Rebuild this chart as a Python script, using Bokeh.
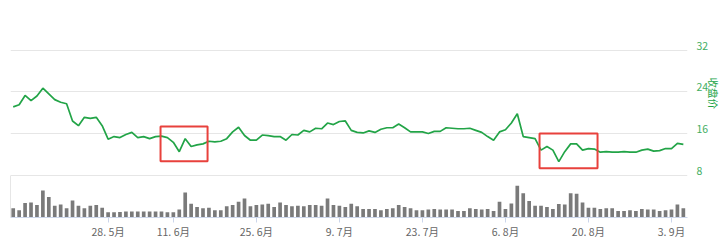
import math
from bokeh.plotting import figure
from bokeh.models import (Range1d, LinearAxis, FixedTicker, ColumnDataSource, Title)
from bokeh.embed import file_html
from bokeh.resources import INLINE

# ---------------- data ----------------
price = [21.1, 21.5, 23.3, 22.3, 23.2, 24.7, 23.6, 22.5, 22.0, 21.7,
         18.4, 17.5, 19.1, 18.9, 19.1, 17.5, 14.9, 15.4, 15.2, 15.8,
         16.2, 15.2, 15.4, 15.0, 15.4, 15.5, 15.2, 14.3, 12.5, 15.0,
         13.5, 13.8, 14.0, 14.5, 14.4, 14.5, 15.0, 16.3, 17.2,
         15.6, 14.7, 14.7, 15.7, 15.6, 15.4, 15.4, 14.7, 15.8, 15.7,
         16.6, 16.3, 17.0, 16.9, 18.0, 17.7, 18.3, 18.4, 16.6, 16.2,
         16.1, 16.5, 16.2, 16.8, 17.1, 17.1, 17.8, 17.1, 16.3, 16.3,
         16.3, 16.0, 16.4, 16.4, 17.1, 17.0, 16.9, 16.9, 17.0, 16.6,
         16.2, 15.4, 14.7, 16.3, 16.7, 18.0, 19.8, 15.4, 15.2, 15.0,
         12.8, 13.5, 12.8, 10.6, 12.5, 14.0, 14.0, 12.8, 13.1, 13.0,
         12.4, 12.5, 12.4, 12.4, 12.5, 12.4, 12.4, 12.8, 13.0, 12.6,
         12.7, 13.1, 13.1, 14.1, 13.9]

volume = [9.3, 7.3, 14.7, 15.3, 12.7, 27.3, 20.7, 12.0, 13.3, 9.3,
          17.3, 12.0, 9.3, 12.0, 12.7, 10.0, 5.3, 5.3, 5.7, 6.0,
          6.0, 6.0, 6.0, 6.0, 6.0, 6.0, 5.3, 5.3, 8.0, 25.3,
          14.0, 10.7, 9.3, 10.0, 7.3, 7.3, 11.3, 12.7,
          16.0, 19.3, 11.3, 12.7, 13.3, 14.0, 10.7, 15.3, 12.7, 11.3,
          12.0, 11.3, 12.7, 12.7,
          12.0, 19.3, 12.7, 12.0, 10.7, 14.0, 11.3,
          8.7, 8.7, 8.7, 7.3, 8.7, 9.3, 12.7, 10.7, 9.3, 7.3,
          7.3, 8.0, 8.7, 8.0, 8.0, 8.0, 6.7, 6.7, 9.3, 8.7,
          8.0, 8.7, 6.7, 16.0, 8.7, 14.3, 32.3, 24.7, 16.7, 12.0,
          12.0, 10.7, 8.7, 13.7, 13.3, 24.7, 24.0, 15.3, 10.0, 10.0,
          8.7, 9.3, 9.3, 6.7, 6.7, 7.3, 6.7, 8.7, 8.0, 8.0,
          6.7, 7.3, 8.0, 13.3, 9.3]

tick_index = [16, 27, 41, 55, 69, 83, 97, 111]
tick_labels = ["28. 5月", "11. 6月", "25. 6月", "9. 7月",
               "23. 7月", "6. 8月", "20. 8月", "3. 9月"]

price_ticks = [8, 16, 24, 32, 40]
axis_title = "收盘价"

# highlighted regions (index range, price range)
highlights = [(24.84, 32.77, 10.67, 17.33), (88.75, 98.53, 9.33, 16.0)]

# ---------------- layout constants ----------------
W, H = 720, 241
LEFT, RIGHT, TOP, BOTTOM = 10, 33, 8, 21
PRICE_PX, VOL_PX = 169, 43
FONT = "Noto Sans CJK SC"
GREEN = "#22a447"

idx = list(range(len(price)))
src = ColumnDataSource(dict(x=idx, price=price, volume=volume))

pmin, pmax = price_ticks[0], price_ticks[-1]
p_start = pmin - (pmax - pmin) * VOL_PX / PRICE_PX
frame_px = PRICE_PX + VOL_PX
x_start, x_end = -0.46, 113.7

p = figure(width=W, height=H, output_backend="svg", toolbar_location=None,
           x_range=Range1d(x_start, x_end), y_range=Range1d(p_start, pmax),
           min_border_left=LEFT, min_border_right=RIGHT,
           min_border_top=TOP, min_border_bottom=BOTTOM,
           y_axis_location=None)
p.outline_line_color = None
p.background_fill_color = "white"
p.border_fill_color = "white"

vol_top = VOL_PX
p.extra_y_ranges = {
    "vol": Range1d(0, vol_top * frame_px / VOL_PX),
    "lab": Range1d(p_start - 0.86, pmax - 0.86),
}

# grid
p.xgrid.visible = False
p.ygrid[0].ticker = FixedTicker(ticks=price_ticks)
p.ygrid[0].grid_line_color = "#e6e6e6"
p.ygrid[0].grid_line_width = 1

# bottom axis
xa = p.xaxis[0]
xa.ticker = FixedTicker(ticks=tick_index)
xa.major_label_overrides = {t: l for t, l in zip(tick_index, tick_labels)}
xa.axis_line_color = "#ccd6eb"
xa.major_tick_line_color = "#ccd6eb"
xa.major_tick_out = 5
xa.major_tick_in = 0
xa.minor_tick_out = 0
xa.minor_tick_in = 0
xa.major_label_standoff = 1
xa.major_label_text_font = FONT
xa.major_label_text_font_size = "10.5px"
xa.major_label_text_color = "#666666"

# right price axis (labels shifted up slightly)
ra = LinearAxis(y_range_name="lab", ticker=FixedTicker(ticks=price_ticks[:-1]))
ra.axis_line_color = None
ra.major_tick_line_color = None
ra.minor_tick_line_color = None
ra.major_tick_out = 0
ra.major_tick_in = 0
ra.minor_tick_out = 0
ra.minor_tick_in = 0
ra.major_label_standoff = 9
ra.major_label_text_font = FONT
ra.major_label_text_font_size = "10.5px"
ra.major_label_text_color = "#3fae62"
p.add_layout(ra, "right")

# axis title on the right
p.add_layout(Title(text=axis_title, align="left", offset=69, standoff=-12,
                   text_font=FONT, text_font_size="10.5px",
                   text_font_style="normal", text_color=GREEN), "right")

# left border of volume pane
la = LinearAxis(y_range_name="vol", bounds=(0, vol_top), ticker=FixedTicker(ticks=[]))
la.axis_line_color = "#e6e6e6"
la.major_tick_line_color = None
la.minor_tick_line_color = None
la.major_tick_out = 0
la.minor_tick_out = 0
la.major_label_standoff = 0
p.add_layout(la, "left")

# volume bars
p.vbar(x="x", top="volume", bottom=0, width=0.62, source=src,
       y_range_name="vol", fill_color="#7a7a7a", line_color=None)

# price line
p.line(x="x", y="price", source=src, line_color=GREEN, line_width=1.7)

# red highlight boxes
for x0, x1, y0, y1 in highlights:
    p.quad(left=x0, right=x1, bottom=y0, top=y1, fill_color=None,
           line_color="#e8413c", line_width=2)

open("out.html", "w").write(file_html(p, INLINE))
